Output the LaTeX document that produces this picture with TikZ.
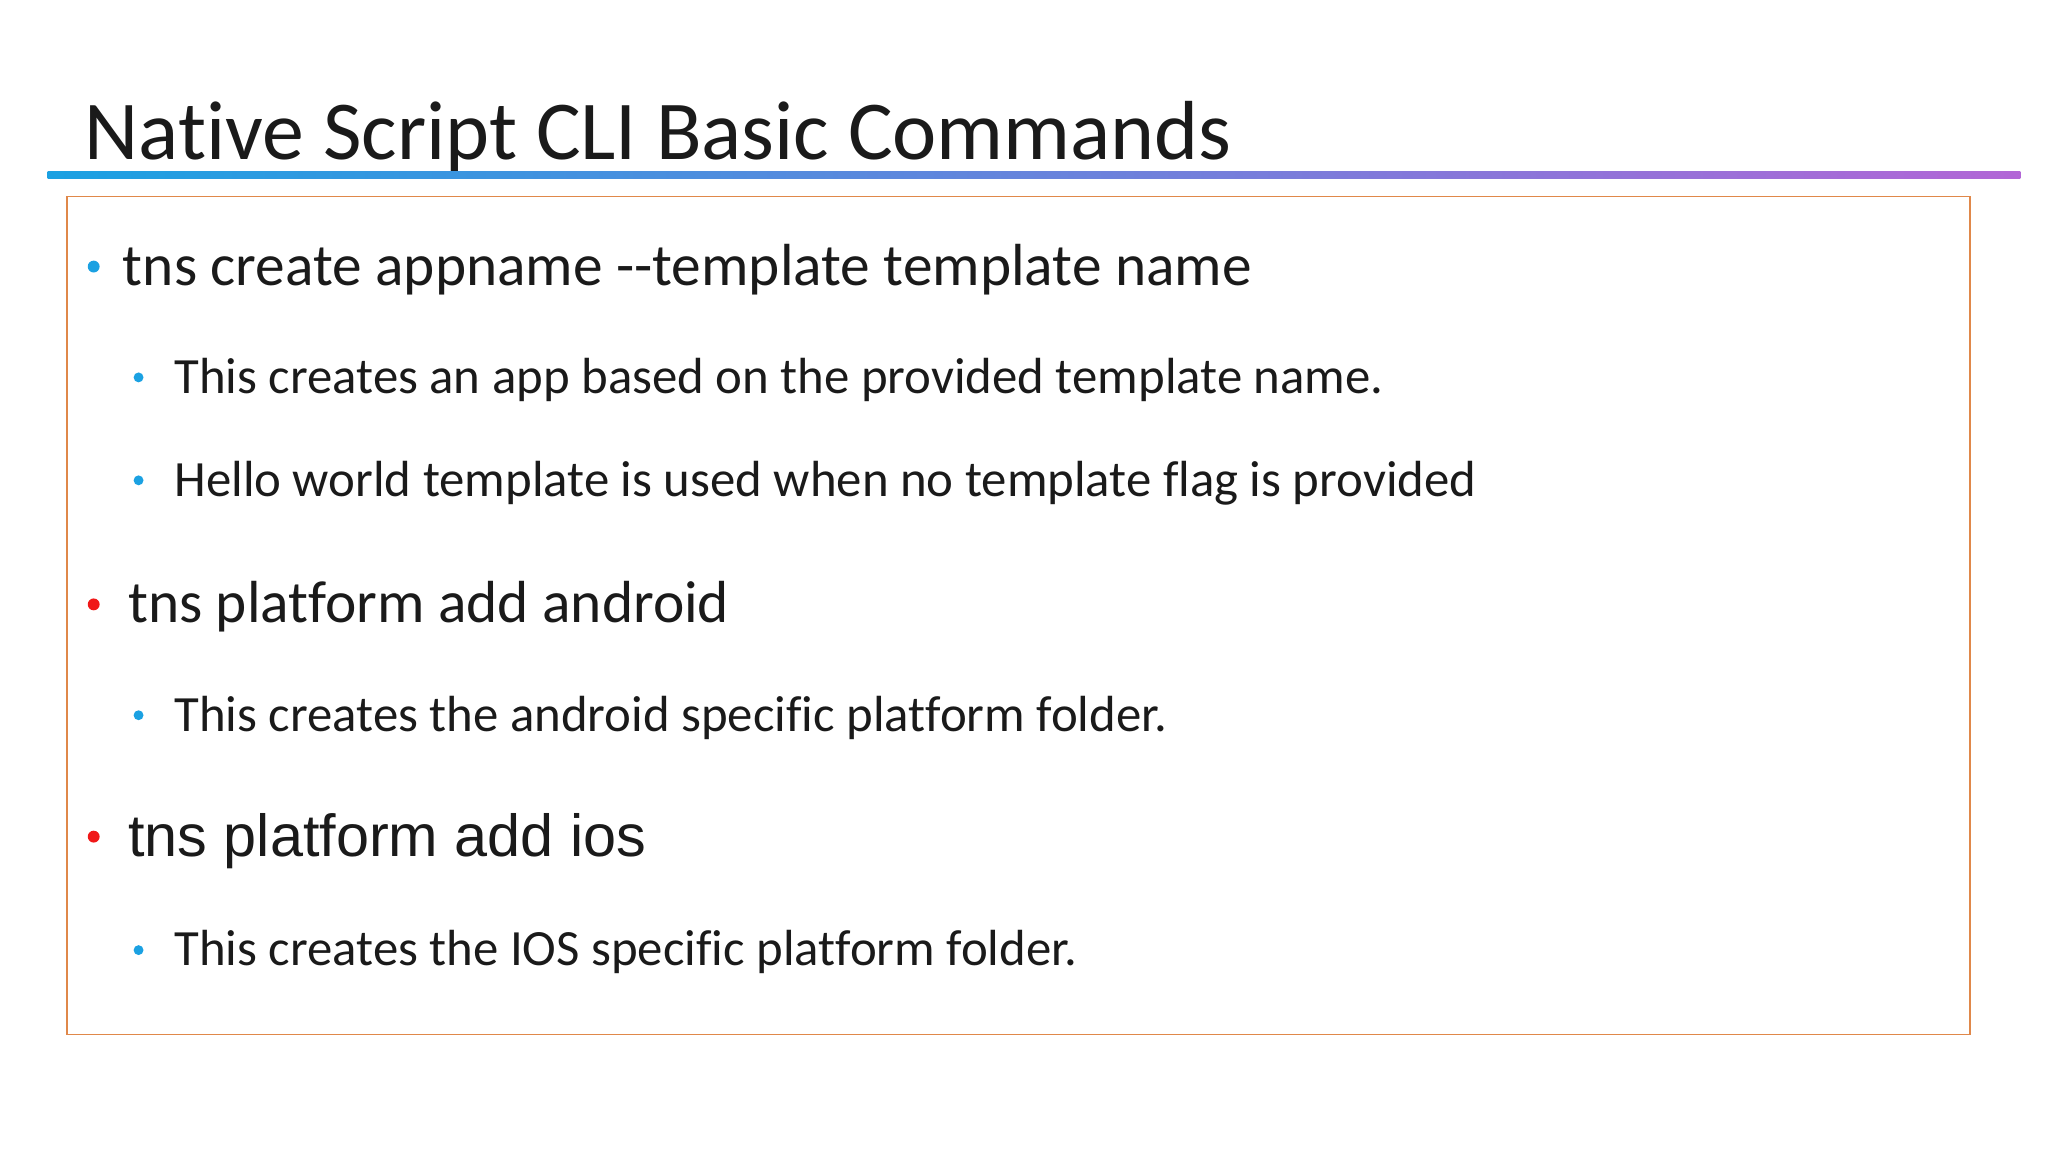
\documentclass[tikz,border=0pt]{standalone}
\usepackage{fontspec}
\setmainfont{Carlito}[Ligatures={NoCommon}]
\newfontfamily\arialf{Liberation Sans}
\definecolor{cy}{HTML}{1BA1E2}
\definecolor{pu}{HTML}{B266D6}
\definecolor{bx}{HTML}{E0884A}
\definecolor{rd}{HTML}{F01818}
\definecolor{tx}{HTML}{1A1A1A}
\begin{document}
\begin{tikzpicture}[x=1pt,y=-1pt,
  txt/.style={anchor=base west,inner sep=0pt,text=tx},
  lone/.style={txt,font=\fontsize{45}{52}\selectfont},
  ltwo/.style={txt,font=\fontsize{38.5}{44}\selectfont},
  bul/.style={circle,inner sep=0pt,minimum size=9pt}]
\useasboundingbox (0,0) rectangle (1552,873);
\node[txt,font=\fontsize{63.5}{70}\selectfont] (title) at (64,121) {Native Script CLI Basic Commands};
\shade[left color=cy,right color=pu] (36,130) rectangle (1531,135);
\draw[bx,line width=1.3pt] (51,149) rectangle (1493,784);
\node[bul,fill=cy] (b1) at (71,202) {};
\node[lone] (t1) at (93,216) {tns create appname -{}-template template name};
\node[bul,fill=cy,minimum size=7.5pt] (b2) at (105,286) {};
\node[ltwo] (t2) at (132,298) {This creates an app based on the provided template name.};
\node[bul,fill=cy,minimum size=7.5pt] (b3) at (105,364) {};
\node[ltwo] (t3) at (132,376) {Hello world template is used when no template flag is provided};
\node[bul,fill=rd] (b4) at (71,458) {};
\node[lone] (t4) at (97,472) {tns platform add android};
\node[bul,fill=cy,minimum size=7.5pt] (b5) at (105,542) {};
\node[ltwo] (t5) at (132,554) {This creates the android specific platform folder.};
\node[bul,fill=rd] (b6) at (71,634) {};
\node[txt,font=\arialf\fontsize{45}{52}\selectfont] (t6) at (97,649) {tns platform add ios};
\node[bul,fill=cy,minimum size=7.5pt] (b7) at (105,720) {};
\node[ltwo] (t7) at (132,732) {This creates the IOS specific platform folder.};
\end{tikzpicture}
\end{document}
